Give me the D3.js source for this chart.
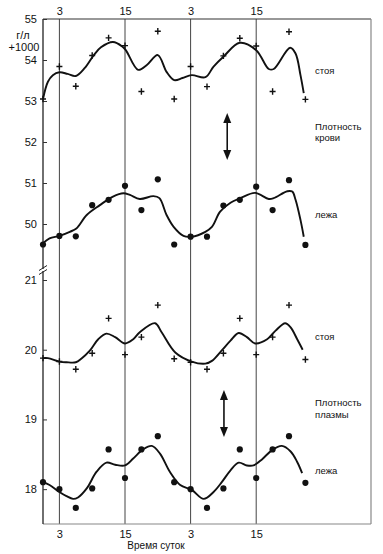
<!DOCTYPE html>
<html><head><meta charset="utf-8">
<script src="https://cdn.jsdelivr.net/npm/d3@7"></script>
<style>body{margin:0;background:#fff}svg{display:block;font-family:"Liberation Sans",Arial,sans-serif}</style>
</head><body><svg id="c" width="383" height="554"></svg>
<script>
// ---- data ----
const times = [0,3,6,9,12,15,18,21,24,27,30,33,36,39,42,45,48];
const bloodStanding = [53.05,53.84,53.36,54.11,54.54,54.35,53.23,54.70,53.05,53.84,53.35,54.10,54.53,54.34,53.23,54.69,53.04];
const bloodLying    = [49.50,49.71,49.70,50.46,50.59,50.93,50.34,51.09,49.50,49.69,49.69,50.45,50.59,50.91,50.34,51.07,49.49];
const plasmaStanding= [19.88,19.83,19.72,19.95,20.45,19.93,20.18,20.64,19.87,19.82,19.72,19.95,20.45,19.93,20.18,20.64,19.86];
const plasmaLying   = [18.10,18.00,17.73,18.01,18.57,18.16,18.57,18.76,18.10,18.00,17.73,18.01,18.57,18.16,18.57,18.76,18.09];
// smoothed curves [hour, value]
const bloodStandingFit = [[0,53.05],[0.9,53.47],[1.8,53.63],[3,53.70],[4.5,53.66],[6,53.61],[7.6,53.80],[9.3,54.12],[10.6,54.31],[12.8,54.44],[14.5,54.33],[15.2,54.23],[17.4,53.76],[19,53.88],[21,54.12],[22.6,53.71],[24,53.51],[25.5,53.56],[27.2,53.63],[29.7,53.58],[31.2,53.84],[33,54.08],[36,54.42],[39,54.24],[41.3,53.78],[42.2,53.78],[45.2,54.30],[46.2,54.16],[47.1,53.63],[47.7,53.19]];
const bloodLyingFit = [[0,49.53],[1.2,49.65],[3,49.71],[4.9,49.81],[6.1,49.89],[8,50.22],[10.4,50.46],[12.8,50.67],[14.7,50.75],[15.9,50.71],[17.7,50.61],[20.2,50.68],[21.3,50.63],[22.6,50.22],[23.9,49.93],[25.7,49.71],[27.2,49.69],[29.7,49.81],[30.9,49.93],[32.4,50.30],[34.3,50.52],[36.1,50.63],[38.8,50.76],[41.3,50.61],[42.2,50.63],[44.7,50.80],[45.6,50.79],[46.2,50.59],[47.1,50.10],[47.7,49.69]];
const plasmaStandingFit = [[0,19.88],[0.9,19.88],[3,19.83],[4.3,19.82],[6,19.82],[7,19.87],[8.6,19.99],[10.1,20.15],[11.6,20.23],[13.2,20.18],[15,20.09],[16.5,20.15],[17.7,20.25],[20.5,20.38],[21.7,20.25],[24.2,19.96],[27.2,19.83],[29.7,19.80],[30.9,19.84],[32.7,19.99],[34.3,20.13],[35.8,20.24],[37.3,20.18],[38.8,20.09],[41,20.15],[42.5,20.27],[44.3,20.38],[45.3,20.32],[46.5,20.15],[47.5,20.00]];
const plasmaLyingFit = [[0,18.10],[1.2,18.06],[3,17.96],[4.3,17.90],[5.5,17.86],[6.4,17.88],[8,18.01],[9.8,18.25],[11.6,18.38],[13.2,18.35],[15,18.34],[16.5,18.44],[18.3,18.57],[19.9,18.62],[21.4,18.51],[23.2,18.25],[25.1,18.06],[27.2,17.99],[29.4,17.86],[31.2,17.96],[32.7,18.10],[34.3,18.27],[35.8,18.38],[37.3,18.34],[38.5,18.34],[40.1,18.43],[41.9,18.56],[43.7,18.62],[45.3,18.54],[46.5,18.39],[47.4,18.23]];
const hourTicks = [3,15,27,39];
const hourTickLabels = ["3","15","3","15"];
const upperTicks = [50,51,52,53,54,55];
const lowerTicks = [18,19,20,21];
const yUnitLabel = ["г/л","+1000"];
const xTitle = "Время суток";

// ---- layout ----
const svg = d3.select("#c");
const L = 43, R = 371, T = 19, B = 524, BRK = 266;
const x = d3.scaleLinear().domain([0,60]).range([L,R]);
const yU = d3.scaleLinear().domain([49,55]).range([T+246,T]);
const yL = d3.scaleLinear().domain([17.5,21]).range([B,280]);

// vertical grid lines
svg.selectAll(".vg").data(hourTicks).join("line")
  .attr("x1",d=>x(d)).attr("x2",d=>x(d)).attr("y1",T).attr("y2",B)
  .attr("stroke","#444").attr("stroke-width",1);
// frame
svg.append("line").attr("x1",L).attr("x2",R).attr("y1",T).attr("y2",T).attr("stroke","#333").attr("stroke-width",1.2);
svg.append("line").attr("x1",R).attr("x2",R).attr("y1",T).attr("y2",B).attr("stroke","#888").attr("stroke-width",1.2);
svg.append("line").attr("x1",L).attr("x2",R).attr("y1",B).attr("y2",B).attr("stroke","#888").attr("stroke-width",1.2);
svg.append("line").attr("x1",L).attr("x2",L).attr("y1",T).attr("y2",B).attr("stroke","#222").attr("stroke-width",1.3);

// top / bottom hour labels
const axT = d3.axisTop(x).tickValues(hourTicks).tickFormat((d,i)=>hourTickLabels[i]).tickSize(0).tickPadding(4);
const gT = svg.append("g").attr("transform",`translate(0,${T})`).call(axT);
const axB = d3.axisBottom(x).tickValues(hourTicks).tickFormat((d,i)=>hourTickLabels[i]).tickSize(0).tickPadding(6);
const gB = svg.append("g").attr("transform",`translate(0,${B})`).call(axB);
[gT,gB].forEach(g=>{g.select(".domain").remove();g.selectAll("text").attr("font-size",11).attr("fill","#111").attr("font-family","Liberation Sans, Arial, sans-serif");});

// left axes
const axU = d3.axisRight(yU).tickValues(upperTicks).tickSize(4).tickFormat(d3.format("d"));
const gU = svg.append("g").attr("transform",`translate(${L},0)`).call(axU);
const axLw = d3.axisRight(yL).tickValues(lowerTicks).tickSize(4).tickFormat(d3.format("d"));
const gLw = svg.append("g").attr("transform",`translate(${L},0)`).call(axLw);
[gU,gLw].forEach(g=>{g.select(".domain").remove();
  g.selectAll("line").attr("stroke","#333");
  g.selectAll("text").attr("x",-6).attr("text-anchor","end").attr("font-size",11).attr("fill","#111").attr("font-family","Liberation Sans, Arial, sans-serif");});

// axis break marks
[268,272].forEach(yy=>{
  svg.append("line").attr("x1",L-4).attr("x2",L+4).attr("y1",yy+2.5).attr("y2",yy-2.5).attr("stroke","#222").attr("stroke-width",1);
});
svg.append("rect").attr("x",L-1).attr("y",269).attr("width",2).attr("height",2).attr("fill","#fff");

// unit label
svg.append("text").attr("x",23).attr("y",39).attr("text-anchor","middle").attr("font-size",11).attr("fill","#111").text(yUnitLabel[0]);
svg.append("text").attr("x",24).attr("y",51).attr("text-anchor","middle").attr("font-size",11).attr("fill","#111").text(yUnitLabel[1]);

// curves
const line = (ys)=>d3.line().x(d=>x(d[0])).y(d=>ys(d[1])).curve(d3.curveCatmullRom.alpha(0.5));
const curves = [[bloodStandingFit,yU],[bloodLyingFit,yU],[plasmaStandingFit,yL],[plasmaLyingFit,yL]];
curves.forEach(([data,ys])=>{
  svg.append("path").attr("d",line(ys)(data)).attr("fill","none").attr("stroke","#111").attr("stroke-width",1.9).attr("stroke-linejoin","round");
});

// markers
const plus = (vals,ys)=>{
  const g = svg.append("g");
  times.forEach((t,i)=>{
    const cx=x(t), cy=ys(vals[i]);
    g.append("path").attr("d",`M${cx-3},${cy}H${cx+3}M${cx},${cy-3.2}V${cy+3.2}`).attr("stroke","#111").attr("stroke-width",1.4);
  });
};
const dots = (vals,ys)=>{
  svg.append("g").selectAll("circle").data(times).join("circle")
    .attr("cx",d=>x(d)).attr("cy",(d,i)=>ys(vals[i])).attr("r",3.1).attr("fill","#111");
};
plus(bloodStanding,yU); dots(bloodLying,yU);
plus(plasmaStanding,yL); dots(plasmaLying,yL);

// right-side labels
const lab = (txt,yy)=>svg.append("text").attr("x",315).attr("y",yy).attr("font-size",9.5).attr("fill","#111").text(txt);
lab("стоя",74); lab("Плотность",130); lab("крови",141); lab("лежа",218);
lab("стоя",340); lab("Плотность",406); lab("плазмы",418); lab("лежа",474);

// double-headed arrows
const arrow = (ax,y1,y2)=>{
  svg.append("line").attr("x1",ax).attr("x2",ax).attr("y1",y1+8).attr("y2",y2-8).attr("stroke","#111").attr("stroke-width",1.6);
  svg.append("path").attr("d",`M${ax},${y1}L${ax-4},${y1+10}L${ax+4},${y1+10}Z`).attr("fill","#111");
  svg.append("path").attr("d",`M${ax},${y2}L${ax-4},${y2-10}L${ax+4},${y2-10}Z`).attr("fill","#111");
};
arrow(x(33.7),113,160);
arrow(x(33.1),390,437);

// x title
svg.append("text").attr("x",156).attr("y",549).attr("text-anchor","middle").attr("font-size",10).attr("fill","#111").text(xTitle);
</script></body></html>
